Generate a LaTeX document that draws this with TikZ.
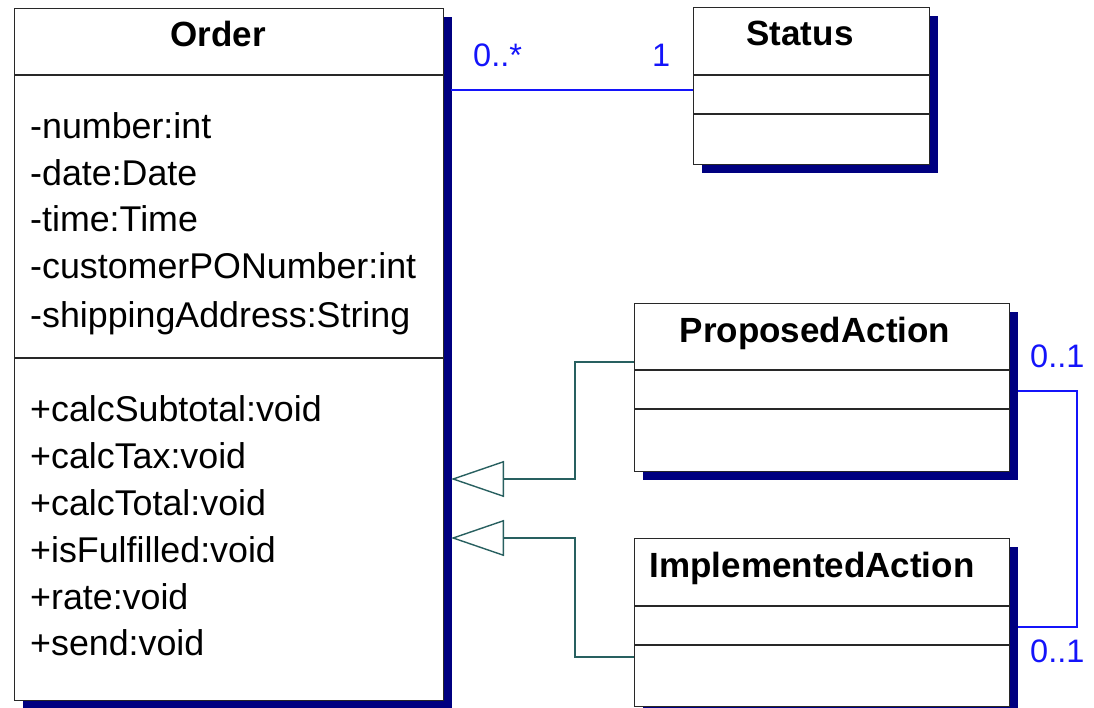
\documentclass[tikz,border=0pt]{standalone}
\usepackage{fontspec}
\setmainfont{Liberation Sans}
\usetikzlibrary{arrows.meta,shadows}
\definecolor{navyshadow}{RGB}{0,0,128}
\definecolor{genline}{RGB}{40,96,96}
\definecolor{assocblue}{RGB}{20,20,250}
\definecolor{boxline}{RGB}{40,40,40}
\tikzset{
  classbox/.style={draw=boxline, line width=1.3pt, fill=white, inner sep=0pt, anchor=north west,
    drop shadow={shadow xshift=8pt, shadow yshift=-8pt, fill=navyshadow, opacity=1}},
  divider/.style={draw=boxline, line width=1.3pt},
  titletext/.style={font=\fontsize{35}{40}\selectfont\bfseries, inner sep=0pt, anchor=base},
  membertext/.style={font=\fontsize{35.8}{40}\selectfont, inner sep=0pt, anchor=base west},
  multtext/.style={font=\fontsize{32.5}{36}\selectfont, text=assocblue, inner sep=0pt, anchor=base west},
  assoc/.style={draw=assocblue, line width=1.3pt},
  inherit/.style={draw=genline, line width=1.4pt, -{Triangle[open, length=53pt, width=36pt, fill=white]}},
}
\begin{document}
\begin{tikzpicture}[x=1pt, y=-1pt]
\useasboundingbox (0,0) rectangle (1094,708);

% Order
\node[classbox, minimum width=429pt, minimum height=692pt] (order) at (14,8) {};
\draw[divider] (14,75) -- (443,75);
\draw[divider] (14,358) -- (443,358);
\node[titletext] (ordert) at (218,47) {Order};
\node[membertext] (a1) at (30,139) {-number:int};
\node[membertext] (a2) at (30,186) {-date:Date};
\node[membertext] (a3) at (30,232) {-time:Time};
\node[membertext] (a4) at (30,279) {-customerPONumber:int};
\node[membertext] (a5) at (30,327) {-shippingAddress:String};
\node[membertext] (m1) at (30,421) {+calcSubtotal:void};
\node[membertext] (m2) at (30,468) {+calcTax:void};
\node[membertext] (m3) at (30,515) {+calcTotal:void};
\node[membertext] (m4) at (30,562) {+isFulfilled:void};
\node[membertext] (m5) at (30,609) {+rate:void};
\node[membertext] (m6) at (30,655) {+send:void};

% Status
\node[classbox, minimum width=236pt, minimum height=157pt] (status) at (693,7) {};
\draw[divider] (693,75) -- (929,75);
\draw[divider] (693,114) -- (929,114);
\node[titletext] (statust) at (800,46) {Status};

% ProposedAction
\node[classbox, minimum width=375pt, minimum height=168pt] (proposed) at (634,303) {};
\draw[divider] (634,370) -- (1009,370);
\draw[divider] (634,409) -- (1009,409);
\node[titletext] (proposedt) at (815,342) {ProposedAction};

% ImplementedAction
\node[classbox, minimum width=375pt, minimum height=168pt] (implemented) at (634,538) {};
\draw[divider] (634,606) -- (1009,606);
\draw[divider] (634,645) -- (1009,645);
\node[titletext] (implementedt) at (812,577) {ImplementedAction};

% Association Order -- Status
\coordinate (oassoc) at (451,90);
\draw[assoc] (oassoc) -- (status.west |- oassoc);
\node[multtext] (mstar) at (473,67) {0..*};
\node[multtext] (mone) at (652,67) {1};

% Generalizations
\coordinate (tip1) at (451,479);
\coordinate (tip2) at (451,538);
\coordinate (pa) at (634,362);
\coordinate (ia) at (634,657);
\draw[inherit] (proposed.west |- pa) -| (575,479) -- (tip1);
\draw[inherit] (implemented.west |- ia) -| (575,538) -- (tip2);

% Association ProposedAction -- ImplementedAction
\coordinate (pr) at (1018,391);
\coordinate (ir) at (1018,627);
\draw[assoc] (pr) -- (1077,391) -- (1077,627) -- (ir);
\node[multtext] (mp) at (1030,367) {0..1};
\node[multtext] (mi) at (1030,662) {0..1};
\end{tikzpicture}
\end{document}
